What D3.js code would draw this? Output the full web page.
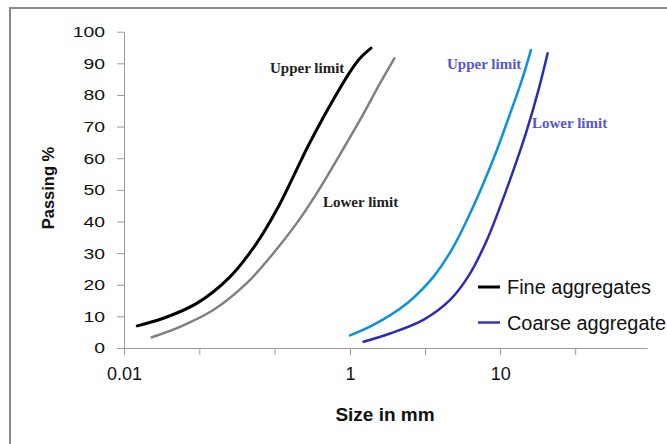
<!DOCTYPE html>
<html>
<head>
<meta charset="utf-8">
<script src="https://cdn.jsdelivr.net/npm/d3@7"></script>
<style>
  html, body { margin: 0; padding: 0; background: #fff; }
  svg { display: block; font-family: 'Liberation Sans', Arial, sans-serif; }
</style>
</head>
<body>
<svg id="chart" width="667" height="444"></svg>
<script>
// grading curves, size in mm vs % passing
const fineUpperSize = [0.0131, 0.0223, 0.044, 0.0867, 0.149, 0.224, 0.315, 0.414, 0.543, 0.711, 1.0, 1.166, 1.38];
const fineUpperPass = [7.0, 9.4, 14.1, 22.5, 33.1, 43.6, 54.2, 63.0, 71.0, 78.5, 87.3, 91.6, 94.8];

const fineLowerSize = [0.0176, 0.0313, 0.0617, 0.122, 0.209, 0.337, 0.507, 0.762, 1.166, 1.585, 1.975];
const fineLowerPass = [3.4, 6.7, 12.0, 20.5, 29.9, 39.4, 48.9, 59.4, 72.1, 83.7, 91.6];

const coarseUpperSize = [1.0, 1.43, 2.39, 3.59, 4.88, 6.31, 7.74, 9.51, 11.66, 13.95, 16.02];
const coarseUpperPass = [4.0, 7.3, 14.1, 22.5, 32.0, 42.6, 52.1, 62.6, 74.2, 84.7, 94.2];

const coarseLowerSize = [1.23, 1.85, 3.08, 4.64, 6.31, 8.15, 10.0, 12.27, 15.06, 18.0, 20.7];
const coarseLowerPass = [2.0, 4.6, 8.9, 15.2, 23.6, 34.1, 44.7, 56.3, 68.9, 81.6, 93.2];

const xTickValues = [0.01, 0.0464, 0.215, 1, 3.16, 10, 31.6];
const xTickLabels = ['0.01', '', '', '1', '', '10', ''];
const yTickValues = [0, 10, 20, 30, 40, 50, 60, 70, 80, 90, 100];

const legendNames = ['Fine aggregates', 'Coarse aggregate'];
const legendColors = ['#000000', '#3535c0'];

const svg = d3.select('#chart');

// outer frame
svg.append('rect')
  .attr('x', 10).attr('y', 8)
  .attr('width', 700).attr('height', 480)
  .attr('fill', 'none')
  .attr('stroke', '#8a8a8a')
  .attr('stroke-width', 2);

// the axis in the picture is uneven, so the log scale is piecewise
const x = d3.scaleLog().domain([0.01, 1, 95]).range([124, 350, 647]);
const y = d3.scaleLinear().domain([0, 100]).range([348, 31.7]);

const xAxis = svg.append('g')
  .attr('transform', `translate(0,${y(0)})`)
  .call(d3.axisBottom(x)
    .tickValues(xTickValues)
    .tickFormat((d, i) => xTickLabels[i])
    .tickSize(7)
    .tickSizeOuter(0));

xAxis.select('.domain').attr('stroke', '#9a9a9a');
xAxis.selectAll('.tick line').attr('stroke', '#9a9a9a');
xAxis.selectAll('.tick text')
  .attr('y', 19)
  .attr('dy', '0.71em')
  .attr('fill', '#111')
  .style('font-size', '18px');

const yAxis = svg.append('g')
  .attr('transform', `translate(${x(0.01)},0)`)
  .call(d3.axisLeft(y)
    .tickValues(yTickValues)
    .tickSize(7)
    .tickSizeOuter(0));

yAxis.select('.domain').attr('stroke', '#9a9a9a');
yAxis.selectAll('.tick line').attr('stroke', '#9a9a9a');
// tick labels look horizontally stretched in the original
yAxis.selectAll('.tick text')
  .attr('x', -19 / 1.25)
  .attr('transform', 'scale(1.25,1)')
  .attr('fill', '#111')
  .style('font-size', '15.5px');

// axis titles
svg.append('text')
  .attr('x', 385).attr('y', 421)
  .attr('text-anchor', 'middle')
  .style('font-size', '19px')
  .style('font-weight', 'bold')
  .attr('fill', '#111')
  .text('Size in mm');

svg.append('text')
  .attr('transform', 'translate(54,188) rotate(-90)')
  .attr('text-anchor', 'middle')
  .style('font-size', '16.5px')
  .style('font-weight', 'bold')
  .attr('fill', '#111')
  .text('Passing %');

// curves
const line = d3.line()
  .x((d) => x(d[0]))
  .y((d) => y(d[1]))
  .curve(d3.curveCatmullRom.alpha(0.5));

const curves = [
  { size: fineUpperSize, pass: fineUpperPass, color: '#000000', w: 3 },
  { size: fineLowerSize, pass: fineLowerPass, color: '#808080', w: 2.5 },
  { size: coarseUpperSize, pass: coarseUpperPass, color: '#0a92de', w: 2.5 },
  { size: coarseLowerSize, pass: coarseLowerPass, color: '#2b2bb8', w: 2.5 },
];

curves.forEach((c) => {
  svg.append('path')
    .datum(d3.zip(c.size, c.pass))
    .attr('d', line)
    .attr('fill', 'none')
    .attr('stroke', c.color)
    .attr('stroke-width', c.w)
    .attr('stroke-linecap', 'round');
});

// limit labels
const notes = [
  { t: 'Upper limit', x: 270, y: 72.5, c: '#222' },
  { t: 'Lower limit', x: 323, y: 206.5, c: '#222' },
  { t: 'Upper limit', x: 447, y: 68.5, c: '#5757cc' },
  { t: 'Lower limit', x: 532, y: 127.5, c: '#5757cc' },
];

svg.selectAll('.note')
  .data(notes)
  .join('text')
  .attr('class', 'note')
  .attr('x', (d) => d.x)
  .attr('y', (d) => d.y)
  .attr('fill', (d) => d.c)
  .style('font-family', "'Liberation Serif', 'Times New Roman', serif")
  .style('font-weight', 'bold')
  .style('font-size', '15px')
  .text((d) => d.t);

// legend
const legend = svg.append('g').attr('transform', 'translate(478,287)');
const items = legend.selectAll('g')
  .data(legendNames)
  .join('g')
  .attr('transform', (d, i) => `translate(0,${i * 35.5})`);

items.append('line')
  .attr('x1', 0).attr('x2', 22)
  .attr('stroke', (d, i) => legendColors[i])
  .attr('stroke-width', (d, i) => (i === 0 ? 3 : 2.5));

items.append('text')
  .attr('x', 29)
  .attr('y', 7)
  .attr('textLength', (d, i) => (i === 0 ? 144 : 159))
  .attr('lengthAdjust', 'spacingAndGlyphs')
  .attr('fill', '#111')
  .style('font-size', '20px')
  .text((d) => d);
</script>
</body>
</html>
